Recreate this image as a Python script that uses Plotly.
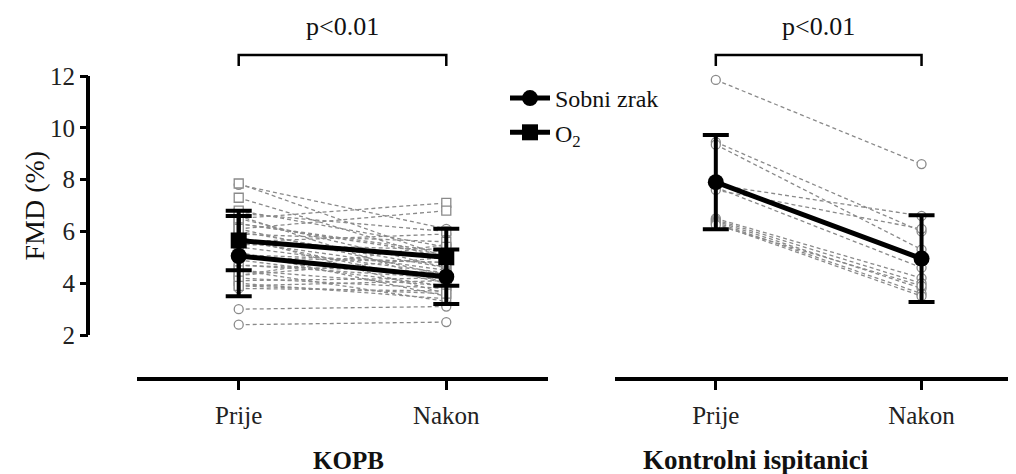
import plotly.graph_objects as go

# ---------------- data ----------------
time_labels = ["Prije", "Nakon"]
y_ticks = [2, 4, 6, 8, 10, 12]

# KOPB, room air (Sobni zrak) individual subjects
kopb_air_prije = [7.8, 6.6, 6.3, 6.0, 5.8, 5.6, 5.4, 5.2, 5.0, 4.9, 4.7, 4.5, 4.3, 4.2, 4.0, 3.9, 3.8, 3.0, 2.4, 5.6]
kopb_air_nakon = [6.1, 4.0, 5.2, 4.6, 3.6, 5.9, 4.4, 3.5, 4.8, 3.9, 4.2, 3.3, 5.5, 3.8, 3.4, 4.1, 3.7, 3.1, 2.5, 4.5]
# KOPB, O2 individual subjects
kopb_o2_prije = [7.85, 7.3, 6.7, 6.5, 6.3, 6.1, 5.9, 5.7, 5.5, 6.5, 5.1, 6.1, 4.7, 4.5, 4.3, 4.1, 3.9, 6.8]
kopb_o2_nakon = [5.0, 4.9, 6.0, 4.6, 5.1, 4.3, 5.6, 4.0, 5.3, 7.1, 4.8, 6.8, 4.4, 3.9, 5.0, 4.2, 3.6, 5.4]
# Controls individual subjects
ctrl_prije = [11.85, 9.45, 9.35, 7.8, 7.7, 7.6, 6.5, 6.45, 6.4, 6.35, 6.3, 6.25]
ctrl_nakon = [8.6, 6.0, 5.3, 6.6, 4.6, 6.1, 4.2, 4.0, 3.8, 3.6, 3.5, 3.9]

# group means and SD
kopb_air_mean = [5.05, 4.25]
kopb_air_sd = [1.55, 1.05]
kopb_o2_mean = [5.65, 5.0]
kopb_o2_sd = [1.15, 1.1]
ctrl_mean = [7.9, 4.95]
ctrl_sd = [1.82, 1.67]

# page body has an 8px margin: work in reference pixels and shift
OFF = 8
W, H = 1016 - OFF, 474 - OFF
FONT = "Liberation Serif"
GREY = "#8a8a8a"
BOTTOM_PX = 377 - OFF          # pixel row of the x-axis line (figure coords)


def py(p):
    """reference pixel row -> paper y"""
    return (BOTTOM_PX - (p - OFF)) / BOTTOM_PX


def px(p):
    """reference pixel column -> paper x"""
    return (p - OFF) / W


fig = go.Figure()


def subject_lines(pre, post, symbol, xa):
    for a, b in zip(pre, post):
        fig.add_trace(go.Scatter(
            x=time_labels, y=[a, b], xaxis=xa, yaxis="y",
            mode="lines+markers",
            line=dict(color=GREY, width=1.3, dash="4px,3px"),
            marker=dict(symbol=symbol, size=9, color="white",
                        line=dict(color=GREY, width=1.3)),
            showlegend=False, hoverinfo="skip"))


subject_lines(kopb_air_prije, kopb_air_nakon, "circle", "x")
subject_lines(kopb_o2_prije, kopb_o2_nakon, "square", "x")
subject_lines(ctrl_prije, ctrl_nakon, "circle", "x2")


def mean_trace(mean, sd, symbol, xa, name, show):
    fig.add_trace(go.Scatter(
        x=time_labels, y=mean, xaxis=xa, yaxis="y",
        mode="lines+markers", name=name, showlegend=show,
        line=dict(color="black", width=5),
        marker=dict(symbol=symbol, size=16, color="black"),
        error_y=dict(type="data", array=sd, color="black",
                     thickness=4, width=13)))


mean_trace(kopb_air_mean, kopb_air_sd, "circle", "x", "Sobni zrak", True)
mean_trace(kopb_o2_mean, kopb_o2_sd, "square", "x", "O<sub>2</sub>", True)
mean_trace(ctrl_mean, ctrl_sd, "circle", "x2", "ctrl", False)

xcommon = dict(
    type="category", categoryorder="array", categoryarray=time_labels,
    showline=True, linewidth=4, linecolor="black",
    ticks="outside", ticklen=9, tickwidth=3, tickcolor="black",
    showgrid=False, zeroline=False,
    tickfont=dict(family=FONT, size=25, color="#222"),
    ticklabelstandoff=4,
)

fig.update_layout(
    width=W, height=H,
    margin=dict(l=0, r=0, t=0, b=H - BOTTOM_PX),
    paper_bgcolor="white", plot_bgcolor="white",
    font=dict(family=FONT, color="#111"),
    xaxis=dict(domain=[px(137), px(548)], range=[-0.49, 1.49], anchor="y", **xcommon),
    xaxis2=dict(domain=[px(615), min(1.0, px(1010))], range=[-0.49, 1.43], anchor="y", **xcommon),
    yaxis=dict(range=[0.38, 2 + (335 - OFF) / 25.9], anchor="free", position=px(88),
               tickvals=y_ticks, ticks="outside", ticklen=8, tickwidth=3,
               tickcolor="black", showline=False, showgrid=False, zeroline=False,
               tickfont=dict(family=FONT, size=25, color="#222")),
    legend=dict(x=px(505), y=py(76), xanchor="left", yanchor="top",
                bgcolor="rgba(0,0,0,0)", font=dict(family=FONT, size=24, color="#111"),
                itemwidth=40),
    showlegend=True,
)

# y-axis line (only between 2 and 12, as in the original)
fig.add_shape(type="line", xref="paper", yref="y", x0=px(88), x1=px(88),
              y0=y_ticks[0], y1=y_ticks[-1], line=dict(color="black", width=4))

# significance brackets
for xr in ["x", "x2"]:
    fig.add_shape(type="path", xref=xr, yref="paper",
                  path=f"M 0 {py(66)} L 0 {py(55)} L 1 {py(55)} L 1 {py(66)}",
                  line=dict(color="black", width=2.5))
    fig.add_annotation(xref=xr, yref="paper", x=0.5, y=py(26), text="p<0.01",
                       xanchor="center", yanchor="middle",
                       showarrow=False, font=dict(family=FONT, size=26, color="#111"))

# group titles
fig.add_annotation(xref="paper", yref="paper", x=px(348), y=py(460), text="<b>KOPB</b>",
                   xanchor="center", yanchor="middle",
                   showarrow=False, font=dict(family=FONT, size=25, color="#111"))
fig.add_annotation(xref="paper", yref="paper", x=px(756), y=py(460),
                   text="<b>Kontrolni ispitanici</b>", xanchor="center", yanchor="middle",
                   showarrow=False, font=dict(family=FONT, size=27, color="#111"))
# y title
fig.add_annotation(xref="paper", yref="y", x=px(35), y=7, text="FMD (%)", textangle=-90,
                   xanchor="center", yanchor="middle",
                   showarrow=False, font=dict(family=FONT, size=28, color="#111"))

fig.write_html("out.html")
